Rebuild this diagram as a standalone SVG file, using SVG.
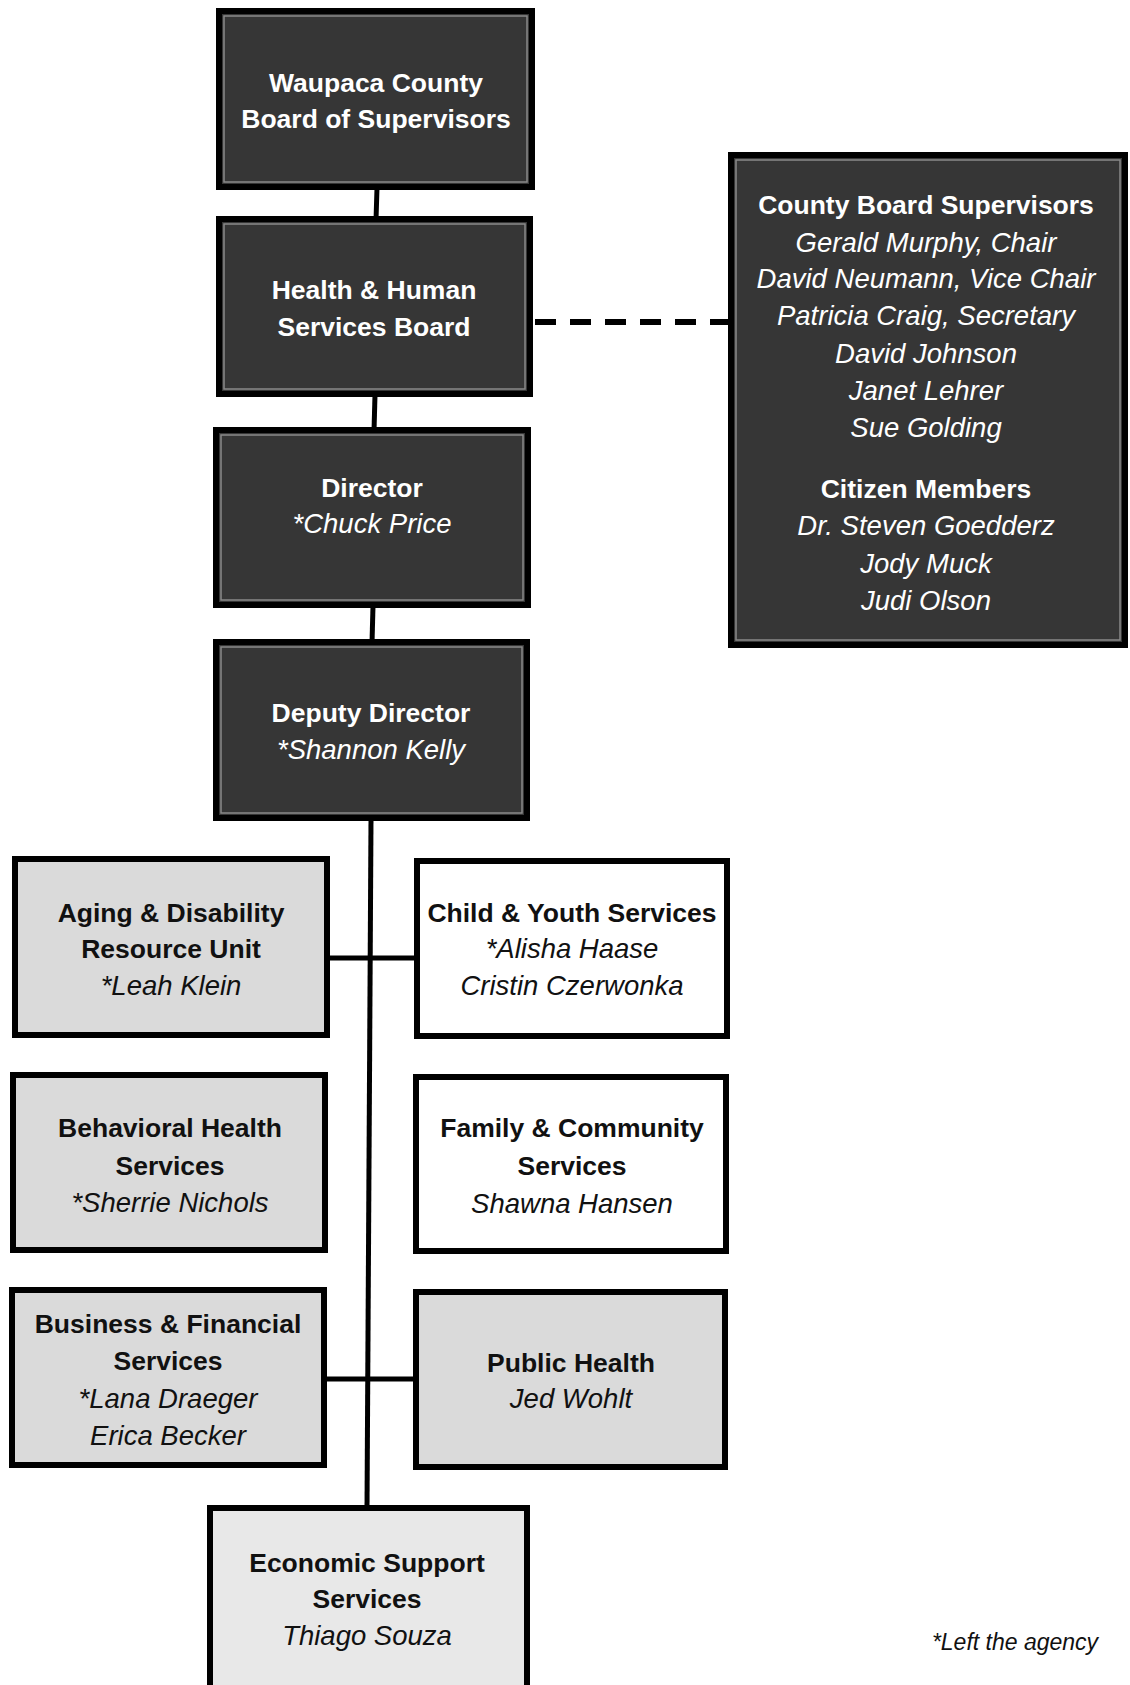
<svg xmlns="http://www.w3.org/2000/svg" width="1130" height="1685" viewBox="0 0 1130 1685">
<style>
.dark{fill:#363636;stroke:#000;stroke-width:6}
.inner{fill:none;stroke:#8a8a8a;stroke-width:1.5}
.gray{fill:#dadada;stroke:#000;stroke-width:6}
.light{fill:#e8e8e8;stroke:#000;stroke-width:6}
.white{fill:#ffffff;stroke:#000;stroke-width:6}
text{font-family:"Liberation Sans",Arial,sans-serif;text-anchor:middle}
.b{font-weight:bold;font-size:26.5px}
.i{font-style:italic;font-size:27.5px}
.w{fill:#ffffff}
.k{fill:#111111}
.conn{stroke:#000;stroke-width:5;fill:none}
.dash{stroke:#000;stroke-width:6;fill:none;stroke-dasharray:21 14}
</style>
<rect x="0" y="0" width="1130" height="1685" fill="#ffffff"/>
<g id="connectors">
<line class="conn" x1="377" y1="188" x2="376" y2="220"/>
<line class="conn" x1="375" y1="395" x2="374" y2="431"/>
<line class="conn" x1="373" y1="606" x2="372" y2="643"/>
<line class="conn" x1="371" y1="819" x2="367" y2="1509"/>
<line class="conn" x1="328" y1="958" x2="416" y2="958"/>
<line class="conn" x1="325" y1="1379" x2="415" y2="1379"/>
<line class="dash" x1="535" y1="322" x2="729" y2="322"/>
</g>
<g id="board-of-supervisors">
<rect class="dark" x="219" y="11" width="313" height="176"/>
<rect class="inner" x="224" y="16" width="303" height="166"/>
<text class="b w" x="376" y="92">Waupaca County</text>
<text class="b w" x="376" y="128">Board of Supervisors</text>
</g>
<g id="hhs-board">
<rect class="dark" x="219" y="219" width="311" height="175"/>
<rect class="inner" x="224" y="224" width="301" height="165"/>
<text class="b w" x="374" y="299">Health &amp; Human</text>
<text class="b w" x="374" y="336">Services Board</text>
</g>
<g id="director">
<rect class="dark" x="216" y="430" width="312" height="175"/>
<rect class="inner" x="221" y="435" width="302" height="165"/>
<text class="b w" x="372" y="497">Director</text>
<text class="i w" x="372" y="533">*Chuck Price</text>
</g>
<g id="deputy-director">
<rect class="dark" x="216" y="642" width="311" height="176"/>
<rect class="inner" x="221" y="647" width="301" height="166"/>
<text class="b w" x="371" y="722">Deputy Director</text>
<text class="i w" x="371" y="759">*Shannon Kelly</text>
</g>
<g id="board-members">
<rect class="dark" x="731" y="155" width="394" height="490"/>
<rect class="inner" x="736" y="160" width="384" height="480"/>
<text class="b w" x="926" y="214">County Board Supervisors</text>
<text class="i w" x="926" y="252">Gerald Murphy, Chair</text>
<text class="i w" x="926" y="288">David Neumann, Vice Chair</text>
<text class="i w" x="926" y="325">Patricia Craig, Secretary</text>
<text class="i w" x="926" y="363">David Johnson</text>
<text class="i w" x="926" y="400">Janet Lehrer</text>
<text class="i w" x="926" y="437">Sue Golding</text>
<text class="b w" x="926" y="498">Citizen Members</text>
<text class="i w" x="926" y="535">Dr. Steven Goedderz</text>
<text class="i w" x="926" y="573">Jody Muck</text>
<text class="i w" x="926" y="610">Judi Olson</text>
</g>
<g id="aging-disability">
<rect class="gray" x="15" y="859" width="312" height="176"/>
<text class="b k" x="171" y="922">Aging &amp; Disability</text>
<text class="b k" x="171" y="958">Resource Unit</text>
<text class="i k" x="171" y="995">*Leah Klein</text>
</g>
<g id="child-youth">
<rect class="white" x="417" y="861" width="310" height="175"/>
<text class="b k" x="572" y="922">Child &amp; Youth Services</text>
<text class="i k" x="572" y="958">*Alisha Haase</text>
<text class="i k" x="572" y="995">Cristin Czerwonka</text>
</g>
<g id="behavioral-health">
<rect class="gray" x="13" y="1075" width="312" height="175"/>
<text class="b k" x="170" y="1137">Behavioral Health</text>
<text class="b k" x="170" y="1175">Services</text>
<text class="i k" x="170" y="1212">*Sherrie Nichols</text>
</g>
<g id="family-community">
<rect class="white" x="416" y="1077" width="310" height="174"/>
<text class="b k" x="572" y="1137">Family &amp; Community</text>
<text class="b k" x="572" y="1175">Services</text>
<text class="i k" x="572" y="1213">Shawna Hansen</text>
</g>
<g id="business-financial">
<rect class="gray" x="12" y="1290" width="312" height="175"/>
<text class="b k" x="168" y="1333">Business &amp; Financial</text>
<text class="b k" x="168" y="1370">Services</text>
<text class="i k" x="168" y="1408">*Lana Draeger</text>
<text class="i k" x="168" y="1445">Erica Becker</text>
</g>
<g id="public-health">
<rect class="gray" x="416" y="1292" width="309" height="175"/>
<text class="b k" x="571" y="1372">Public Health</text>
<text class="i k" x="571" y="1408">Jed Wohlt</text>
</g>
<g id="economic-support">
<rect class="light" x="210" y="1508" width="317" height="200"/>
<text class="b k" x="367" y="1572">Economic Support</text>
<text class="b k" x="367" y="1608">Services</text>
<text class="i k" x="367" y="1645">Thiago Souza</text>
</g>
<text class="k" x="1015" y="1650" style="font-style:italic;font-size:23px">*Left the agency</text>
</svg>
